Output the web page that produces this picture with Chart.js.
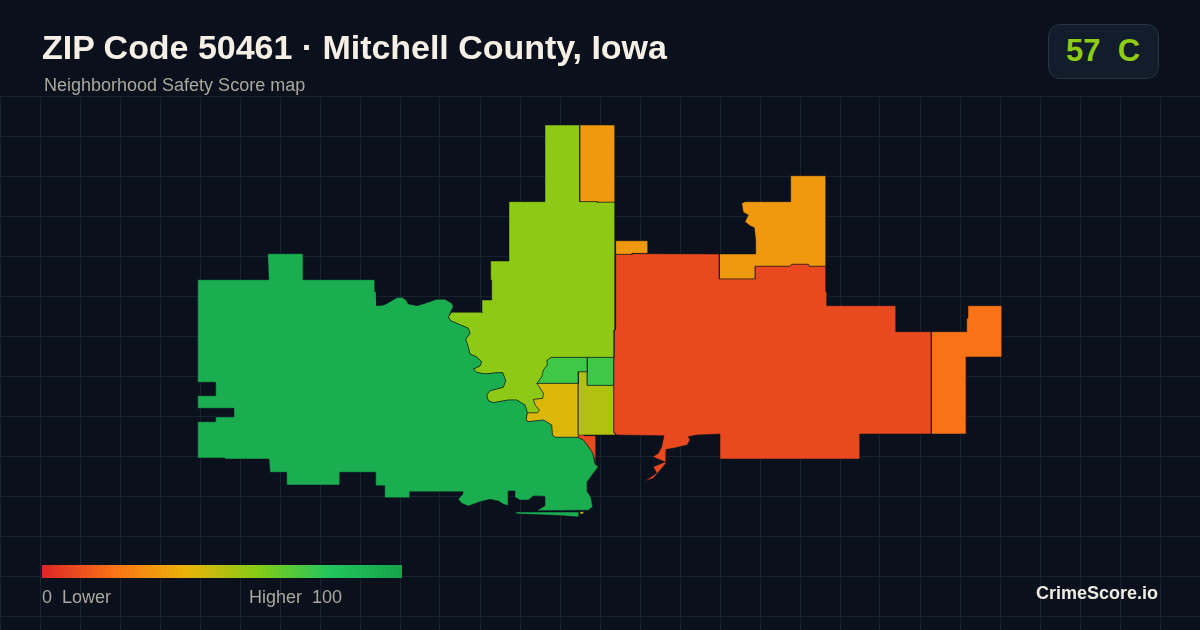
<!DOCTYPE html>
<html>
<head>
<meta charset="utf-8">
<title>ZIP Code 50461</title>
<script src="https://cdn.jsdelivr.net/npm/chart.js@4"></script>
<style>
  html, body { margin: 0; padding: 0; background: #0a111c; }
  #wrap { position: relative; width: 1200px; height: 630px; overflow: hidden; font-family: "Liberation Sans", Arial, sans-serif; }
  canvas { position: absolute; left: 0; top: 0; }
  .txt { position: absolute; white-space: pre; line-height: 1; }
  #title { left: 42px; top: 30px; font-size: 34px; font-weight: 700; color: #f5efe6; letter-spacing: -0.03px; }
  #subtitle { left: 44px; top: 76px; font-size: 18px; color: #aca79d; }
  #badge { position: absolute; left: 1048px; top: 24px; width: 109px; height: 53px; border: 1px solid #263442; border-radius: 12px; background: #111d2a; }
  #grade { left: 1066px; top: 35px; font-size: 31px; font-weight: 700; color: #8fcc14; }
  #ramp { position: absolute; left: 42px; top: 565px; width: 360px; height: 13px; }
  #low { left: 42px; top: 588px; font-size: 18px; color: #aca79d; }
  #high { left: 249px; top: 588px; font-size: 18px; color: #aca79d; }
  #brand { right: 42px; top: 584px; font-size: 18px; font-weight: 700; color: #f0ece4; }
</style>
</head>
<body>
<div id="wrap">
  <canvas id="map" width="1200" height="630"></canvas>
  <div class="txt" id="title">ZIP Code 50461 · Mitchell County, Iowa</div>
  <div class="txt" id="subtitle">Neighborhood Safety Score map</div>
  <div id="badge"></div>
  <div class="txt" id="grade">57  C</div>
  <div id="ramp"></div>
  <div class="txt" id="low">0  Lower</div>
  <div class="txt" id="high">Higher  100</div>
  <div class="txt" id="brand">CrimeScore.io</div>
</div>
<script>
// Score ramp stops, 0 to 100
const rampStops = [0, 20, 40, 60, 80, 100]
const rampColors = ['#dc2626', '#f97316', '#eab308', '#84cc16', '#22c55e', '#16a34a']

// Background graticule rows, in map units
const gridRows = [96, 136, 176, 216, 256, 296, 336, 376, 416, 456, 496, 536, 576, 616]

// Tract outlines, in projected map units
const westTract = [
  [197.7,279.7],[268.7,279.7],[267.7,253.7],[303.3,253.7],[303.3,279.7],[375,279.7],[375,291.7],[376,291.7],[376.7,305.7],
  [384,305],[390,301.7],[396.7,297.7],[401.7,297.3],[406,300],[408.3,304],[417.3,305.7],[426.7,302.7],[436.7,299.3],[445,299.3],
  [451.7,303.3],[453.3,306.7],[450.7,311.7],[448.3,317.3],[450.7,320.7],[468.3,328.3],[470,333.3],[465.7,339.3],[468.3,347.3],
  [470,354],[476,356.7],[481.7,361.7],[480,366],[473.3,369],[476.7,372.3],[485,374],[496.7,372.7],[502.7,372.7],[505.7,380.7],
  [503.3,387.3],[490,390.7],[486.7,395],[488.3,400.7],[493.3,402.7],[508.3,400],[516.7,400],[525,405],[527.3,412.3],[526,420],
  [528.3,421.7],[543.3,420],[551.7,425],[552.3,435],[555,437.3],[577.7,437.3],[583.3,440],[588.3,446.7],[592.7,453.3],[595,464],
  [598.3,466.7],[593.3,473.3],[587.3,481.7],[587.3,491.7],[590.7,496.7],[592.7,506.7],[588.3,510.2],[536.7,510.7],[545,505.7],
  [545,496.7],[541.7,496],[533.3,496],[528.3,500],[520,500],[515,497.3],[515,491],[508.3,491],[508.3,505.7],[503.3,504],
  [498.3,501],[490,499.3],[480,501.7],[468.3,506],[461.7,503.3],[458.3,499.3],[462.7,494],[463,491.7],[410,491.7],[410,497.7],
  [384.7,497.7],[384.7,485.7],[375.7,485.7],[375.7,472.3],[340,472.3],[340,485],[286.7,485],[286.7,472.3],[270,472.3],[269,459],
  [225,459],[225,458],[197.7,458],[197.7,421.7],[215.7,421.7],[215.7,417],[234,417],[234,408.3],[197.7,408.3],[197.7,395.7],
  [215.7,395.7],[215.7,382.3],[197.7,382.3]
]
const southSliver = [[516,512],[579,512],[579,517],[560,515.5],[516,513.8]]
const limeTract = [
  [545,125],[579.7,125],[579.7,201.7],[597.3,201.7],[597.3,202.3],[615,202.3],[615,330],[614,330],[614,357.3],[551,357.3],
  [546.7,360.7],[547.3,365],[543.3,370],[541.7,376.7],[536.7,383.3],[540,388.3],[543.3,393.3],[542.7,398.3],[533.3,399.3],
  [535,405],[539.3,410],[537.3,412.7],[527.3,412.7],[525,405],[516.7,400],[508.3,400],[493.3,402.7],[488.3,400.7],[486.7,395],
  [490,390.7],[503.3,387.3],[505.7,380.7],[502.7,372.7],[496.7,372.7],[485,374],[476.7,372.3],[473.3,369],[480,366],[481.7,361.7],
  [476,356.7],[470,354],[468.3,347.3],[465.7,339.3],[470,333.3],[468.3,328.3],[450.7,320.7],[448.3,316.7],[451.7,312.3],
  [482.7,312.3],[482,300],[491.7,300],[491.7,280],[490.7,280],[490.7,261],[509,261],[509,201.7],[545,201.7]
]
const northOrange = [[579.7,125],[615,125],[615,202.3],[597.3,202.3],[597.3,201.7],[579.7,201.7]]
const stubOrange = [[615.7,240.7],[648,240.7],[648,253.3],[632,253.3],[632,254.3],[615.7,254.3]]
const redTract = [
  [615.7,254.3],[632,254.3],[632,253.7],[719.3,254],[719.3,279],[755.3,279],[755.3,266.3],[790,266.3],[791.7,264.3],[808.3,264.3],
  [809.3,266.3],[826,266.3],[826,291.7],[827,291.7],[827,305.7],[896,305.7],[896,331.7],[931.3,331.7],[931.3,434],[860,434],
  [860,459],[720,459],[720,434],[696.7,435],[688.3,436.7],[690,440],[687.3,445],[673.3,448.3],[666.7,449.3],[666,463.3],
  [653.3,478.3],[645,481],[656.7,473],[653.3,466.7],[665,462],[652.7,456.7],[658.3,453.3],[661.7,446.7],[664,435.7],[616.7,435],
  [614.7,432.7],[614,350],[614,330],[615,330]
]
const eastOrange = [
  [931.3,331.7],[966.7,331.7],[966.7,318.3],[968,318.3],[968,305.7],[1002,305.7],[1002,357],[966.3,357],[966.3,434],[931.3,434]
]
const northeastOrange = [
  [790.7,175.7],[826,175.7],[826,266.3],[809.3,266.3],[808.3,264.3],[791.7,264.3],[790,266.3],[755.3,266.3],[755.3,279],[719.3,279],
  [719.3,254],[755.7,254],[755.7,240],[754.3,227.7],[750,225.7],[745,221.7],[748.3,215],[743.3,212.3],[741.7,203.3],[745,201.7],[790.7,201.7]
]
const midGreenWest = [[551,357.3],[587.3,357.3],[587.3,371.7],[578.3,371.7],[578.3,383.3],[536.7,383.3],[541.7,376.7],[543.3,370],[547.3,365],[546.7,360.7]]
const midGreenEast = [[587.3,357.3],[614,357.3],[614,385.3],[587.3,385.3]]
const oliveTract = [[578.3,371.7],[587.3,371.7],[587.3,385.3],[614,385.3],[614,432.7],[615.5,435],[578.3,435]]
const yellowTract = [
  [536.7,383.3],[578.3,383.3],[578.3,435],[577.7,437.3],[555,437.3],[552.3,435],[551.7,425],[543.3,420],[528.3,421.7],[526,420],
  [527.3,412.7],[537.3,412.7],[539.3,410],[535,405],[533.3,399.3],[542.7,398.3],[543.3,393.3],[540,388.3]
]
const riverRed = [
  [577.7,435],[579.3,430.7],[583.3,431.7],[584,435.7],[596,435.7],[596,464],[592.7,453.3],[588.3,446.7],[583.3,440],[577.7,437.3]
]
const tinyYellow = [[580,511.7],[584,511.7],[583,514],[580,514]]

const tractOutlines = [westTract, southSliver, limeTract, northOrange, stubOrange, redTract, eastOrange, northeastOrange,
  midGreenWest, midGreenEast, oliveTract, yellowTract, riverRed, tinyYellow]
const tractScores = [93.5, 93.5, 58, 32, 32, 9, 20, 32, 74, 74, 51, 43, 9, 43]

function hexToRgb(hex) {
  return [1, 3, 5].map(i => parseInt(hex.slice(i, i + 2), 16))
}

function scoreColor(score) {
  let i = 0
  while (i < rampStops.length - 2 && score > rampStops[i + 1]) i++
  const t = (score - rampStops[i]) / (rampStops[i + 1] - rampStops[i])
  const a = hexToRgb(rampColors[i])
  const b = hexToRgb(rampColors[i + 1])
  const mix = a.map((v, k) => Math.round(v + (b[k] - v) * t))
  return `rgb(${mix[0]}, ${mix[1]}, ${mix[2]})`
}

document.getElementById('ramp').style.background =
  `linear-gradient(to right, ${rampColors.map((c, i) => `${c} ${rampStops[i]}%`).join(', ')})`

const datasets = tractOutlines.map((outline, i) => {
  const points = outline.concat([outline[0]]).map(p => ({ x: p[0], y: p[1] }))
  return {
    data: points,
    showLine: true,
    fill: 'shape',
    tension: 0,
    pointRadius: 0,
    pointHoverRadius: 0,
    borderWidth: 0.5,
    borderColor: '#0a111c',
    backgroundColor: scoreColor(tractScores[i])
  }
})

const gridColor = '#17242f'

new Chart(document.getElementById('map').getContext('2d'), {
  type: 'scatter',
  data: { datasets },
  options: {
    responsive: false,
    animation: false,
    devicePixelRatio: 1,
    layout: { padding: { top: 96 } },
    plugins: { legend: { display: false }, tooltip: { enabled: false } },
    scales: {
      x: {
        type: 'linear', min: 0, max: 1200,
        ticks: { display: false, stepSize: 40 },
        border: { display: false },
        grid: { color: gridColor, drawTicks: false }
      },
      y: {
        type: 'linear', min: 96, max: 630, reverse: true,
        afterBuildTicks: axis => { axis.ticks = gridRows.map(value => ({ value })) },
        ticks: { display: false },
        border: { display: false },
        grid: { color: gridColor, drawTicks: false }
      }
    }
  }
})
</script>
</body>
</html>
